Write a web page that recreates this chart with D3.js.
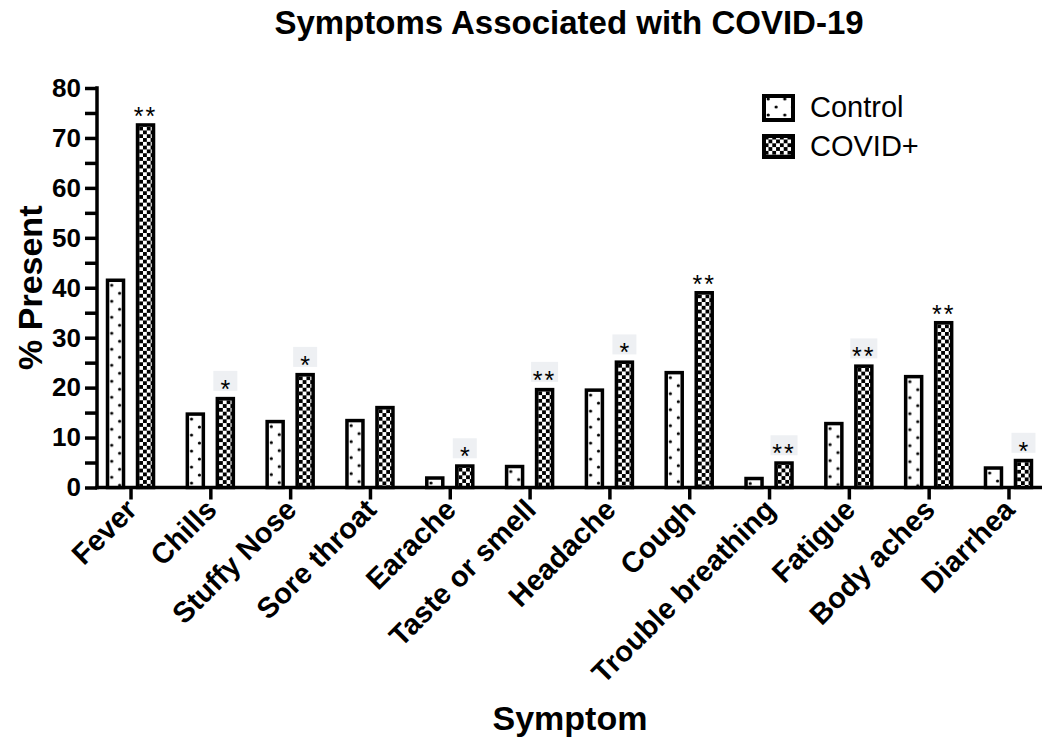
<!DOCTYPE html>
<html>
<head>
<meta charset="utf-8">
<script src="https://cdn.jsdelivr.net/npm/d3@7"></script>
<style>
  body { margin: 0; background: #fff; }
  svg text { font-family: "Liberation Sans", Arial, sans-serif; fill: #000; }
</style>
</head>
<body>
<svg width="1050" height="742"></svg>
<script>
const symptoms = ["Fever", "Chills", "Stuffy Nose", "Sore throat", "Earache", "Taste or smell",
  "Headache", "Cough", "Trouble breathing", "Fatigue", "Body aches", "Diarrhea"];
const controlValues = [41.5, 14.7, 13.2, 13.4, 1.9, 4.2, 19.5, 23.0, 1.8, 12.8, 22.2, 3.9];
const covidValues = [72.6, 17.8, 22.6, 16.0, 4.3, 19.6, 25.1, 39.0, 4.9, 24.3, 33.0, 5.4];
const sigLabels = ["**", "*", "*", "", "*", "**", "*", "**", "**", "**", "**", "*"];
const sigBoxed = [false, true, true, false, true, true, true, false, true, true, false, true];
const yTicks = [0, 10, 20, 30, 40, 50, 60, 70, 80];
const seriesNames = ["Control", "COVID+"];

const svg = d3.select("svg");
const defs = svg.append("defs");

const x0 = 97, x1 = 1042, yBase = 487.5, yTop = 88;

const x = d3.scalePoint().domain(symptoms).range([x0, x1]).padding(0.42);
const y = d3.scaleLinear().domain([0, 80]).range([yBase, yTop]);

const barW = 16; // stroke drawn on top of this
const offset = 15;

// patterns are built per bar so the dots / checks line up with each bar's edge
function dotPattern(id, left, top) {
  const p = defs.append("pattern")
    .attr("id", id)
    .attr("patternUnits", "userSpaceOnUse")
    .attr("x", left).attr("y", top)
    .attr("width", 16.6).attr("height", 16);
  p.append("rect").attr("width", 16.6).attr("height", 16).attr("fill", "#fff");
  p.append("circle").attr("cx", 4.2).attr("cy", 5).attr("r", 1.6).attr("fill", "#000");
  p.append("circle").attr("cx", 12.1).attr("cy", 13).attr("r", 1.6).attr("fill", "#000");
}

function checkPattern(id, left, top) {
  const s = 3.8;
  const p = defs.append("pattern")
    .attr("id", id)
    .attr("patternUnits", "userSpaceOnUse")
    .attr("x", left + 1.7).attr("y", top + 1.7)
    .attr("width", s * 2).attr("height", s * 2);
  p.append("rect").attr("width", s * 2).attr("height", s * 2).attr("fill", "#fff");
  p.append("rect").attr("width", s).attr("height", s).attr("fill", "#000");
  p.append("rect").attr("x", s).attr("y", s).attr("width", s).attr("height", s).attr("fill", "#000");
}

const bars = [];
symptoms.forEach((s, i) => {
  bars.push({ key: s, series: 0, cx: x(s) - offset, v: controlValues[i] });
  bars.push({ key: s, series: 1, cx: x(s) + offset, v: covidValues[i] });
});

bars.forEach((d, i) => {
  d.id = "pat" + i;
  if (d.series === 0) dotPattern(d.id, d.cx - barW / 2, y(d.v));
  else checkPattern(d.id, d.cx - barW / 2, y(d.v));
});

// axes
const yAxis = d3.axisLeft(y)
  .tickValues(d3.range(0, 81, 5))
  .tickSize(12)
  .tickPadding(4)
  .tickFormat(d => (yTicks.includes(d) ? d : ""));

const gy = svg.append("g").attr("transform", `translate(${x0},0)`).call(yAxis);
gy.select(".domain").remove();
gy.selectAll(".tick line").attr("stroke", "#000").attr("stroke-width", 3.5);
gy.selectAll(".tick text")
  .attr("font-size", 26).attr("font-weight", "bold")
  .attr("font-family", "Liberation Sans, Arial, sans-serif");
gy.append("line")
  .attr("x1", 0).attr("x2", 0)
  .attr("y1", yTop - 1.75).attr("y2", yBase + 1.75)
  .attr("stroke", "#000").attr("stroke-width", 3.5);

const xAxis = d3.axisBottom(x).tickSize(12).tickFormat("");
const gx = svg.append("g").attr("transform", `translate(0,${yBase})`).call(xAxis);
gx.select(".domain").remove();
gx.selectAll(".tick line").attr("stroke", "#000").attr("stroke-width", 3.5);
gx.append("line")
  .attr("x1", x0 - 1.75).attr("x2", x1)
  .attr("stroke", "#000").attr("stroke-width", 3.5);

// rotated category labels
svg.append("g")
  .selectAll("text")
  .data(symptoms)
  .join("text")
  .attr("transform", d => `translate(${x(d) + 8},${yBase + 24}) rotate(-45)`)
  .attr("text-anchor", "end")
  .attr("font-size", 29)
  .attr("font-weight", "bold")
  .text(d => d);

// bars
svg.append("g")
  .selectAll("rect")
  .data(bars)
  .join("rect")
  .attr("x", d => d.cx - barW / 2)
  .attr("y", d => y(d.v))
  .attr("width", barW)
  .attr("height", d => yBase - y(d.v))
  .attr("fill", d => `url(#${d.id})`)
  .attr("stroke", "#000")
  .attr("stroke-width", 3.5);

// significance marks
const sig = svg.append("g");
symptoms.forEach((s, i) => {
  if (!sigLabels[i]) return;
  const cx = x(s) + offset;
  const top = y(covidValues[i]) - 1.75;
  if (sigBoxed[i]) {
    const w = sigLabels[i].length > 1 ? 27 : 24;
    sig.append("rect")
      .attr("x", cx - w / 2).attr("y", top - 26)
      .attr("width", w).attr("height", 20)
      .attr("fill", "#eef0f3");
  }
  sig.append("text")
    .attr("x", cx).attr("y", top + (sigBoxed[i] ? 1 : 2))
    .attr("text-anchor", "middle")
    .attr("font-size", 25)
    .attr("letter-spacing", sigLabels[i].length > 1 ? 2 : 0)
    .text(sigLabels[i]);
});

// legend
const legend = svg.append("g");
const legendRows = [
  { name: seriesNames[0], y: 96, h: 24, base: 117 },
  { name: seriesNames[1], y: 136, h: 21, base: 156 }
];
dotPattern("legDots", 764, 94);
checkPattern("legCheck", 763, 134);
legendRows.forEach((r, i) => {
  legend.append("rect")
    .attr("x", 764).attr("y", r.y)
    .attr("width", 29).attr("height", r.h)
    .attr("fill", i === 0 ? "url(#legDots)" : "url(#legCheck)")
    .attr("stroke", "#000").attr("stroke-width", 4);
  legend.append("text")
    .attr("x", 810).attr("y", r.base)
    .attr("font-size", 29)
    .text(r.name);
});

// titles
svg.append("text")
  .attr("x", 569).attr("y", 34)
  .attr("text-anchor", "middle")
  .attr("font-size", 33)
  .attr("font-weight", "bold")
  .text("Symptoms Associated with COVID-19");

svg.append("text")
  .attr("x", 570).attr("y", 730)
  .attr("text-anchor", "middle")
  .attr("font-size", 34)
  .attr("font-weight", "bold")
  .text("Symptom");

svg.append("text")
  .attr("transform", `translate(42,${(yTop + yBase) / 2}) rotate(-90)`)
  .attr("text-anchor", "middle")
  .attr("font-size", 34)
  .attr("font-weight", "bold")
  .text("% Present");
</script>
</body>
</html>
